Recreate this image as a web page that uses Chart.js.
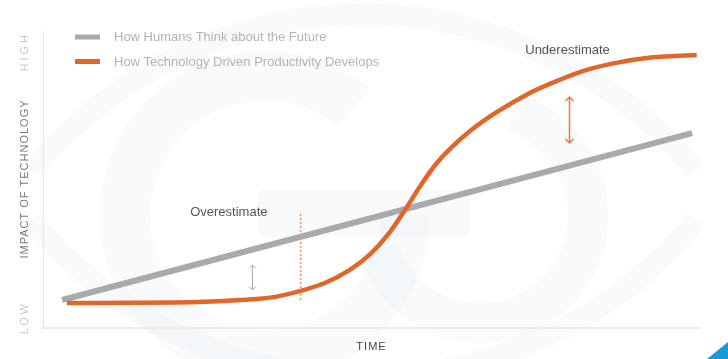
<!DOCTYPE html>
<html><head><meta charset="utf-8">
<script src="https://cdn.jsdelivr.net/npm/chart.js@4.4.1/dist/chart.umd.min.js"></script>
<style>html,body{margin:0;padding:0;background:#fff;}#wrap{width:728px;height:359px;position:relative}</style>
</head><body><div id="wrap"><canvas id="c"></canvas></div>
<script>
// ---- data ----
const seriesNames = ['How Humans Think about the Future', 'How Technology Driven Productivity Develops'];
const humanTime = [2.9, 98.8];
const humanImpact = [9.4, 65.4];
const techTime = [3.65, 19.8, 30.0, 34.55, 39.1, 42.9, 46.7, 49.8, 52.8, 55.1, 57.4, 59.7, 61.95, 65.0, 69.1, 74.1, 76.7, 81.7, 86.8, 91.9, 99.5];
const techImpact = [8.4, 8.56, 9.4, 10.2, 12.4, 15.1, 19.5, 24.8, 32.2, 39.6, 47.6, 54.7, 60.1, 66.1, 72.5, 78.9, 81.5, 85.9, 88.8, 90.6, 91.6];
const axisTitles = ['TIME', 'IMPACT OF TECHNOLOGY'];
const levelLabels = ['HIGH', 'LOW'];
const noteLabels = ['Overestimate', 'Underestimate'];
const noteTime = [22.4, 73.4];
const noteImpact = [38.9, 93.0];
const gapTime = [31.8, 80.1];
const gapFrom = [21.1, 77.5];
const gapTo = [12.75, 62.1];
const markerTime = [39.2, 39.2];
const markerImpact = [38.3, 8.7];

const FONT = "'Liberation Sans', Arial, Helvetica, sans-serif";
Chart.defaults.font.family = FONT;

const toPts = (xs, ys) => xs.map((x, i) => ({x: x, y: ys[i]}));

const bgPlugin = {
  id: 'bg',
  beforeDraw(chart) {
    const ctx = chart.ctx, W = chart.width, H = chart.height;
    ctx.save();
    ctx.fillStyle = '#fff';
    ctx.fillRect(0, 0, W, H);
    // very faint watermark
    ctx.strokeStyle = 'rgba(240,243,248,0.45)';
    ctx.fillStyle = 'rgba(240,243,248,0.45)';
    ctx.lineWidth = 22;
    ctx.beginPath(); ctx.arc(W * 0.5, H * 1.24, H * 1.2, Math.PI * 1.22, Math.PI * 1.78); ctx.stroke();
    ctx.beginPath(); ctx.arc(W * 0.5, -H * 0.15, H * 1.2, Math.PI * 0.22, Math.PI * 0.78); ctx.stroke();
    ctx.lineWidth = 50;
    ctx.beginPath(); ctx.arc(W * 0.364, H * 0.6, H * 0.39, 0, Math.PI * 1.72); ctx.stroke();
    ctx.lineWidth = 40;
    ctx.beginPath(); ctx.arc(W * 0.66, H * 0.6, H * 0.3, Math.PI * 1.6, Math.PI * 0.9); ctx.stroke();
    ctx.fillRect(W * 0.355, H * 0.53, W * 0.29, H * 0.13);
    ctx.restore();
    chart.ctx.letterSpacing = '1px';
  },
  beforeDatasetsDraw(chart) {
    chart.ctx.letterSpacing = '0px';
  },
  afterDraw(chart) {
    const ctx = chart.ctx, W = chart.width, H = chart.height;
    const ys = chart.scales.y;
    ctx.save();
    ctx.letterSpacing = '3px';
    ctx.fillStyle = '#c9c9c9';
    ctx.font = '11px ' + FONT;
    ctx.textBaseline = 'middle';
    ctx.translate(25, ys.top + 2);
    ctx.rotate(-Math.PI / 2);
    ctx.textAlign = 'right';
    ctx.fillText(levelLabels[0], 0, 0);
    ctx.restore();
    ctx.save();
    ctx.letterSpacing = '2.5px';
    ctx.fillStyle = '#c9c9c9';
    ctx.font = '11px ' + FONT;
    ctx.textBaseline = 'middle';
    ctx.translate(25, ys.bottom - 10);
    ctx.rotate(-Math.PI / 2);
    ctx.textAlign = 'center';
    ctx.fillText(levelLabels[1], 0, 0);
    ctx.restore();

    // legend
    ctx.save();
    ctx.font = '13px ' + FONT;
    ctx.textBaseline = 'middle';
    ctx.textAlign = 'left';
    const leg = [{i: 0, bar: 37, txt: 37}, {i: 1, bar: 61.5, txt: 62}];
    leg.forEach(l => {
      const ds = chart.data.datasets[l.i];
      ctx.fillStyle = ds.borderColor;
      ctx.fillRect(75, l.bar - 2.5, 25, 5);
      ctx.fillStyle = '#b3b3b3';
      ctx.fillText(ds.label, 114, l.txt);
    });
    ctx.restore();

    // blue corner
    ctx.save();
    ctx.fillStyle = '#169ad8';
    ctx.beginPath(); ctx.moveTo(W - 21, H); ctx.lineTo(W, H - 17); ctx.lineTo(W, H); ctx.closePath(); ctx.fill();
    ctx.restore();
  },
  afterDatasetsDraw(chart) {
    const ctx = chart.ctx;
    const xs = chart.scales.x, ys = chart.scales.y;
    ctx.save();
    ctx.font = '13px ' + FONT;
    ctx.fillStyle = '#555';
    ctx.textBaseline = 'middle';
    ctx.textAlign = 'left';
    noteLabels.forEach((t, i) => ctx.fillText(t, xs.getPixelForValue(noteTime[i]), ys.getPixelForValue(noteImpact[i])));
    const cols = ['#a9a9a9', '#ef7a42'];
    const lws = [1, 1.5];
    const hs = [3.5, 4];
    gapTime.forEach((t, i) => {
      const x = Math.round(xs.getPixelForValue(t)) + 0.5;
      const y1 = ys.getPixelForValue(gapFrom[i]);
      const y2 = ys.getPixelForValue(gapTo[i]);
      const h = hs[i];
      ctx.strokeStyle = cols[i];
      ctx.lineWidth = lws[i];
      ctx.beginPath();
      ctx.moveTo(x, y1); ctx.lineTo(x, y2);
      ctx.moveTo(x - h, y1 + h); ctx.lineTo(x, y1); ctx.lineTo(x + h, y1 + h);
      ctx.moveTo(x - h, y2 - h); ctx.lineTo(x, y2); ctx.lineTo(x + h, y2 - h);
      ctx.stroke();
    });
    ctx.restore();
  }
};

new Chart(document.getElementById('c'), {
  type: 'line',
  data: {
    datasets: [
      {label: seriesNames[0], data: toPts(humanTime, humanImpact), borderColor: '#aaaaaa', borderWidth: 6, pointRadius: 0, borderCapStyle: 'butt', order: 2},
      {label: seriesNames[1], data: toPts(techTime, techImpact), borderColor: '#e2662a', borderWidth: 4.5, pointRadius: 0, cubicInterpolationMode: 'monotone', borderCapStyle: 'butt', order: 1},
      {label: 'marker', data: toPts(markerTime, markerImpact), borderColor: '#f08c60', borderWidth: 1.5, borderDash: [2, 2], pointRadius: 0, order: 3}
    ]
  },
  options: {
    responsive: true,
    maintainAspectRatio: false,
    animation: false,
    devicePixelRatio: 1,
    layout: {padding: {left: 0, top: 30, right: 28, bottom: 0}},
    plugins: {legend: {display: false}, tooltip: {enabled: false}},
    scales: {
      x: {
        type: 'linear', min: 0, max: 100,
        grid: {display: false, drawTicks: false},
        border: {display: true, color: '#ebebeb', width: 2},
        ticks: {display: false},
        title: {display: true, text: axisTitles[0], color: '#444', font: {size: 11}, padding: {top: 0, bottom: 5.4}},
        afterFit: s => { s.height = 31; }
      },
      y: {
        type: 'linear', min: 0, max: 100,
        grid: {display: false, drawTicks: false},
        border: {display: true, color: '#e6e6e6', width: 1},
        ticks: {display: false},
        title: {display: true, text: axisTitles[1], color: '#777', font: {size: 11}, padding: {top: 18.4, bottom: 0}},
        afterFit: s => { s.width = 43; }
      }
    }
  },
  plugins: [bgPlugin]
});
</script>
</body></html>
